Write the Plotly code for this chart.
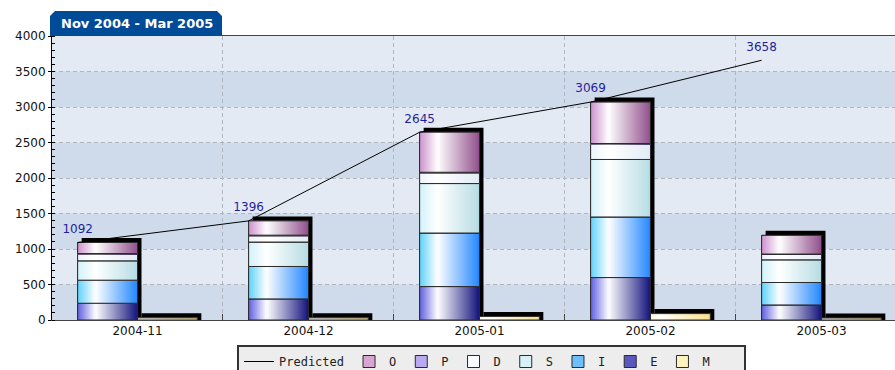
import plotly.graph_objects as go
import numpy as np

# ---------------- data ----------------
months = ["2004-11", "2004-12", "2005-01", "2005-02", "2005-03"]
predicted = [1092, 1396, 2645, 3069, 3658]
E = [236, 297, 471, 598, 212]
I = [325, 457, 754, 853, 316]
S = [273, 344, 697, 810, 320]
D = [94, 89, 151, 217, 75]
P = [8, 8, 8, 8, 6]
O = [156, 201, 564, 583, 263]
M = [30, 30, 50, 90, 28]
title_text = "Nov 2004 - Mar 2005"

# ---------------- style ----------------
STYLE = {
    "E": ((95, 95, 225), (20, 20, 125), (90, 90, 190), 0.3),
    "I": ((95, 210, 250), (35, 135, 255), (110, 190, 250), 0.3),
    "S": ((210, 242, 250), (182, 220, 228), (215, 240, 245), 0.3),
    "D": ((238, 244, 252), (226, 235, 246), (248, 250, 253), 0.3),
    "P": ((180, 160, 240), (105, 75, 195), (185, 170, 240), 0.3),
    "O": ((205, 145, 205), (145, 80, 140), (215, 165, 210), 0.3),
    "M": ((255, 250, 222), (250, 224, 140), (252, 242, 190), 0.15),
}
RANK = {"O": 2, "P": 3, "D": 4, "S": 5, "I": 6, "E": 7, "M": 8}
LEGEND_PAD = {"M": "\u00a0\u00a0\u00a0\u00a0"}
EDGE = "#2a2a2a"
BW = 0.35          # bar width in category units
N = 30             # gradient slices
XR = [-0.5, 4.43]
YR = [0, 4000]
PLOT_L, PLOT_R, PLOT_T, PLOT_B = 52, 895, 36, 320
px_per_x = (PLOT_R - PLOT_L) / (XR[1] - XR[0])
px_per_y = (PLOT_B - PLOT_T) / (YR[1] - YR[0])
SDX = 4 / px_per_x
SDY = 4.5 / px_per_y


def grad(left, right, peak, t):
    left = np.array(left, float); right = np.array(right, float); w = np.array([255, 255, 255], float)
    if t < peak:
        c = left + (w - left) * (t / peak)
    else:
        c = w + (right - w) * ((t - peak) / (1 - peak))
    c = np.clip(np.round(c), 0, 255).astype(int)
    return "rgb(%d,%d,%d)" % tuple(c)


x = np.arange(len(months))
fig = go.Figure()

stack = [("E", E), ("I", I), ("S", S), ("D", D), ("P", P), ("O", O)]
totals = np.sum([np.array(v) for _, v in stack], axis=0)

# 3D shadows
fig.add_trace(go.Bar(x=x, y=totals + SDY, base=0, offset=-BW + SDX, width=BW,
                     marker=dict(color="black", line=dict(width=0)),
                     showlegend=False, hoverinfo="skip"))
fig.add_trace(go.Bar(x=x, y=np.array(M) + SDY, base=0, offset=SDX, width=BW,
                     marker=dict(color="black", line=dict(width=0)),
                     showlegend=False, hoverinfo="skip"))


def add_series(name, vals, base, off):
    left, right, leg, peak = STYLE[name]
    vals = np.array(vals)
    fig.add_trace(go.Bar(x=x, y=vals, base=base, offset=off, width=BW,
                         name=name + LEGEND_PAD.get(name, ""),
                         legendrank=RANK[name],
                         marker=dict(color="rgb(%d,%d,%d)" % leg, line=dict(color=EDGE, width=1)),
                         hoverinfo="skip"))
    w = BW / N
    for k in range(N):
        t = (k + 0.5) / N
        fig.add_trace(go.Bar(x=x, y=vals, base=base, offset=off + k * w,
                             width=w * (1.8 if k < N - 1 else 1.0),
                             marker=dict(color=grad(left, right, peak, t), line=dict(width=0)),
                             showlegend=False, hoverinfo="skip"))
    fig.add_trace(go.Bar(x=x, y=vals, base=base, offset=off, width=BW,
                         marker=dict(color="rgba(0,0,0,0)", line=dict(color=EDGE, width=1)),
                         showlegend=False, hoverinfo="skip"))


base = np.zeros(len(months))
for name, vals in stack:
    add_series(name, vals, base.copy(), -BW)
    base = base + np.array(vals)
add_series("M", M, np.zeros(len(months)), 0.0)

fig.add_trace(go.Scatter(x=x - BW, y=predicted, mode="lines+markers+text", name="Predicted",
                         legendrank=1,
                         line=dict(color="black", width=1),
                         marker=dict(size=9, color="rgba(0,0,0,0)"),
                         text=[str(v) for v in predicted], textposition="top center",
                         textfont=dict(color="#1f1f9a", size=12, family="DejaVu Sans"),
                         hoverinfo="skip", cliponaxis=False))

# background bands
shapes = []
for k in range(0, 4000, 1000):
    shapes.append(dict(type="rect", xref="paper", yref="y", x0=0, x1=1, y0=k, y1=k + 500,
                       fillcolor="#cfdbea", line=dict(width=0), layer="below"))

# title tab
pw = PLOT_R - PLOT_L
ph = PLOT_B - PLOT_T
tx0 = (50 - PLOT_L) / pw
tx1 = (222 - PLOT_L) / pw
ty0 = 1.0
ty1 = 1 + (36 - 11) / ph
cx = 5 / pw
cy = 5 / ph
shapes.append(dict(type="path", xref="paper", yref="paper",
                   path=f"M {tx0},{ty0} L {tx0},{ty1-cy} L {tx0+cx},{ty1} L {tx1-cx},{ty1} L {tx1},{ty1-cy} L {tx1},{ty0} Z",
                   fillcolor="#004b98", line=dict(width=0), layer="above"))

fig.update_layout(
    width=895, height=370,
    margin=dict(l=PLOT_L, r=0, t=PLOT_T, b=370 - PLOT_B, autoexpand=False),
    barmode="overlay",
    paper_bgcolor="white", plot_bgcolor="#e4eaf3",
    font=dict(family="DejaVu Sans", size=12, color="#111"),
    shapes=shapes,
    annotations=[dict(text="<b>%s</b>" % title_text, xref="paper", yref="paper",
                      x=(59 - PLOT_L) / pw, y=1 + (36 - 23.5) / ph, xanchor="left", yanchor="middle",
                      showarrow=False, font=dict(color="white", size=13, family="DejaVu Sans"))],
    legend=dict(orientation="h", x=(237 - PLOT_L) / pw, xanchor="left",
                y=-(345 - PLOT_B) / ph, yanchor="top",
                bgcolor="#ededed", bordercolor="#333", borderwidth=2,
                font=dict(family="DejaVu Sans Mono", size=12, color="#222"),
                traceorder="normal"),
    xaxis=dict(range=XR, tickmode="array", tickvals=x, ticktext=months, ticks="",
               showgrid=False, zeroline=False, showline=True, linecolor="#444", linewidth=1,
               mirror=True, fixedrange=True,
               minor=dict(tickmode="array", tickvals=[0.5, 1.5, 2.5, 3.5], ticks="inside",
                          ticklen=6, tickcolor="#444", showgrid=True, gridcolor="#b0b6c0",
                          griddash="4px,3px", gridwidth=1)),
    yaxis=dict(range=YR, tickmode="linear", tick0=0, dtick=500, ticks="outside", ticklen=3,
               tickcolor="black", showline=True, linecolor="black", linewidth=1,
               showgrid=True, gridcolor="#b0b6c0", griddash="4px,3px", zeroline=False,
               fixedrange=True,
               minor=dict(dtick=100, ticks="inside", ticklen=3, tickcolor="black", showgrid=False)),
)

fig.write_html("out.html")
